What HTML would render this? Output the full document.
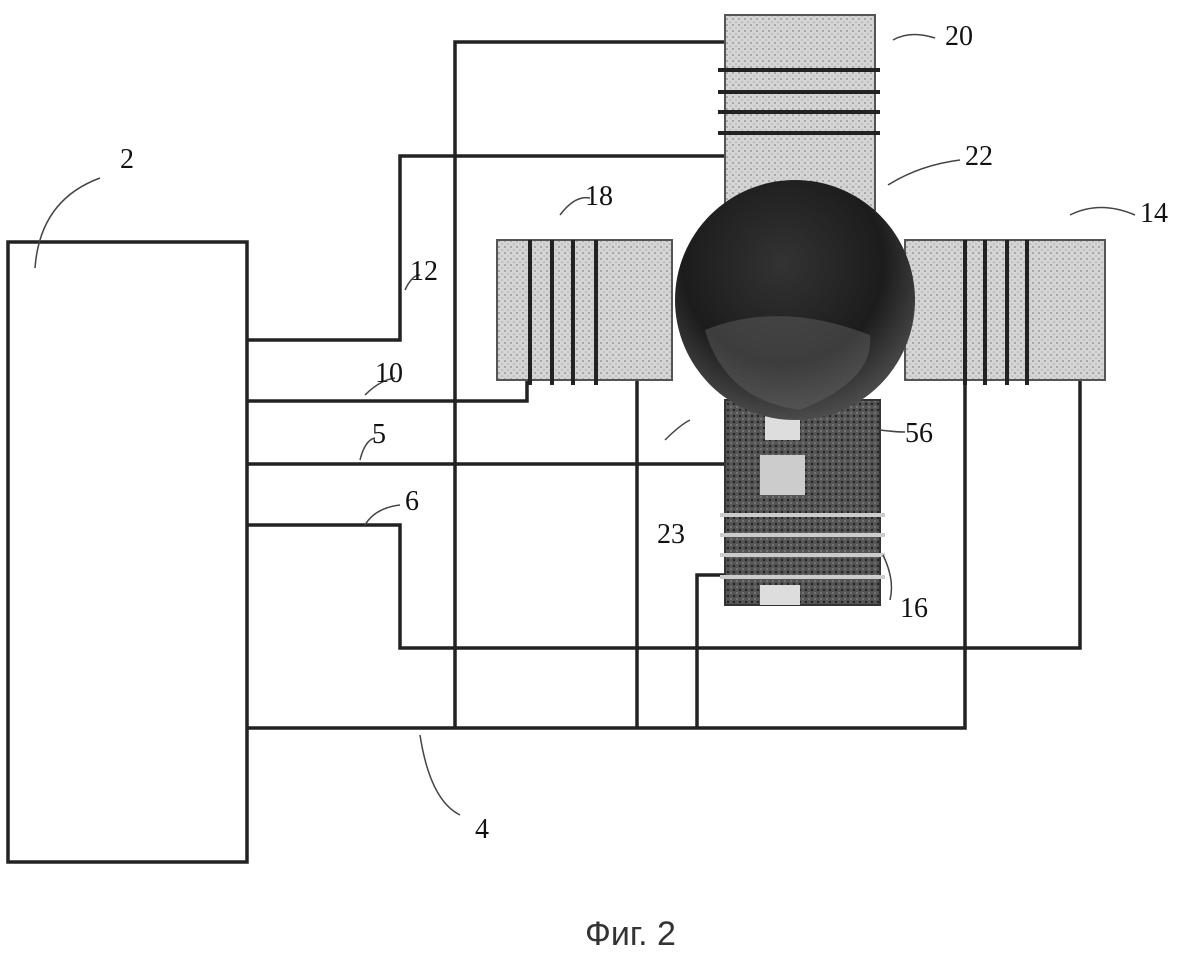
<!DOCTYPE html>
<html><head><meta charset="utf-8"><style>
html,body{margin:0;padding:0;background:#fff;}
svg{display:block;}
text{font-family:"Liberation Serif",serif;font-size:28px;fill:#111;}
</style></head><body>
<svg width="1184" height="957" viewBox="0 0 1184 957" xmlns="http://www.w3.org/2000/svg">
<defs>
<pattern id="st" width="6" height="6" patternUnits="userSpaceOnUse">
<rect width="6" height="6" fill="#d4d4d4"/><circle cx="1" cy="1" r="0.9" fill="#888"/><circle cx="4" cy="4" r="0.8" fill="#aaa"/>
</pattern>
<pattern id="dk" width="6" height="6" patternUnits="userSpaceOnUse">
<rect width="6" height="6" fill="#555"/><circle cx="2" cy="2" r="1.2" fill="#222"/><circle cx="5" cy="5" r="0.9" fill="#888"/>
</pattern>
<radialGradient id="sph" cx="0.45" cy="0.35" r="0.7">
<stop offset="0" stop-color="#333"/><stop offset="0.6" stop-color="#1c1c1c"/><stop offset="1" stop-color="#555"/>
</radialGradient>
</defs>
<g fill="none" stroke="#222" stroke-width="3.5">
<rect x="8" y="242" width="239" height="620" fill="#fff"/>
<polyline points="247,340 400,340 400,156 730,156"/>
<polyline points="247,401 527,401 527,380"/>
<polyline points="247,464 725,464"/>
<polyline points="247,525 400,525 400,648 1080,648 1080,380"/>
<polyline points="247,728 965,728 965,380"/>
<polyline points="455,728 455,42 735,42"/>
<line x1="637" y1="728" x2="637" y2="380"/>
<polyline points="697,728 697,575 725,575"/>
</g>
<rect x="725" y="15" width="150" height="195" fill="url(#st)" stroke="#555" stroke-width="2"/>
<g stroke="#222" stroke-width="4">
<line x1="718" y1="70" x2="880" y2="70"/><line x1="718" y1="92" x2="880" y2="92"/>
<line x1="718" y1="112" x2="880" y2="112"/><line x1="718" y1="133" x2="880" y2="133"/>
</g>
<rect x="497" y="240" width="175" height="140" fill="url(#st)" stroke="#555" stroke-width="2"/>
<g stroke="#222" stroke-width="4">
<line x1="530" y1="240" x2="530" y2="385"/><line x1="552" y1="240" x2="552" y2="385"/>
<line x1="573" y1="240" x2="573" y2="385"/><line x1="596" y1="240" x2="596" y2="385"/>
</g>
<rect x="905" y="240" width="200" height="140" fill="url(#st)" stroke="#555" stroke-width="2"/>
<g stroke="#222" stroke-width="4">
<line x1="965" y1="240" x2="965" y2="385"/><line x1="985" y1="240" x2="985" y2="385"/>
<line x1="1007" y1="240" x2="1007" y2="385"/><line x1="1027" y1="240" x2="1027" y2="385"/>
</g>
<rect x="725" y="400" width="155" height="205" fill="url(#dk)" stroke="#333" stroke-width="2"/>
<rect x="765" y="405" width="35" height="35" fill="#ddd"/>
<rect x="760" y="455" width="45" height="40" fill="#ccc"/>
<rect x="760" y="585" width="40" height="20" fill="#ddd"/>
<g stroke="#ccc" stroke-width="4">
<line x1="720" y1="515" x2="885" y2="515"/><line x1="720" y1="535" x2="885" y2="535"/>
<line x1="720" y1="555" x2="885" y2="555"/><line x1="720" y1="577" x2="885" y2="577"/>
</g>
<circle cx="795" cy="300" r="120" fill="url(#sph)"/>
<path d="M705,330 Q780,300 870,335 Q875,380 800,410 Q725,400 705,330Z" fill="#666" opacity="0.45"/>
<g fill="none" stroke="#444" stroke-width="1.5">
<path d="M35,268 Q40,200 100,178"/>
<path d="M893,40 Q910,30 935,38"/>
<path d="M888,185 Q920,165 960,160"/>
<path d="M560,215 Q575,195 590,198"/>
<path d="M1070,215 Q1100,200 1135,215"/>
<path d="M405,290 Q412,275 420,275"/>
<path d="M365,395 Q380,380 395,378"/>
<path d="M360,460 Q365,440 375,438"/>
<path d="M365,525 Q375,508 400,505"/>
<path d="M665,440 Q680,425 690,420"/>
<path d="M880,430 Q895,432 905,432"/>
<path d="M883,555 Q895,580 890,600"/>
<path d="M420,735 Q430,800 460,815"/>
</g>
<text x="120" y="168">2</text>
<text x="945" y="45">20</text>
<text x="965" y="165">22</text>
<text x="585" y="205">18</text>
<text x="1140" y="222">14</text>
<text x="410" y="280">12</text>
<text x="375" y="382">10</text>
<text x="372" y="443">5</text>
<text x="405" y="510">6</text>
<text x="657" y="543">23</text>
<text x="905" y="442">56</text>
<text x="900" y="617">16</text>
<text x="475" y="838">4</text>
<text x="585" y="945" style="font-family:'Liberation Sans',sans-serif;font-size:34px;fill:#333;">Фиг. 2</text>
</svg>
</body></html>
